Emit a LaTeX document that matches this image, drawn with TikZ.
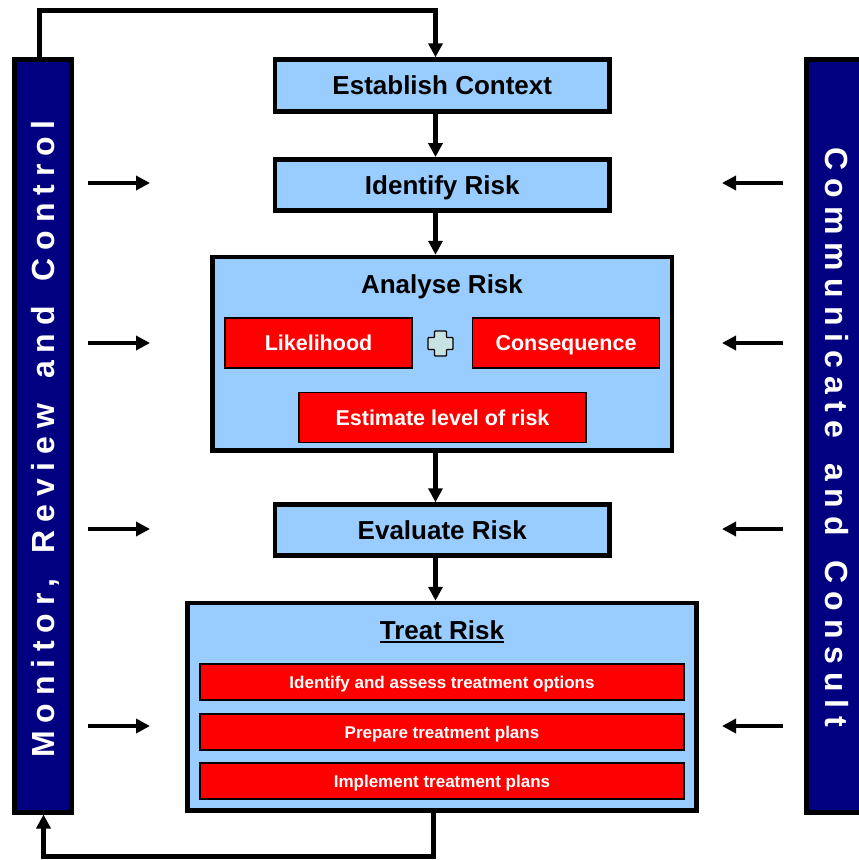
\documentclass[tikz,border=0pt]{standalone}
\usepackage{fontspec}
\setmainfont{Liberation Sans}
\usepackage{xcolor}
\usetikzlibrary{arrows.meta,positioning}
\definecolor{boxblue}{HTML}{99CCFF}
\definecolor{barnavy}{HTML}{000080}
\definecolor{plusgrey}{HTML}{C6E2E2}

\begin{document}
\begin{tikzpicture}[x=1pt,y=-1pt,
    stage/.style={draw,line width=4.5pt,fill=boxblue,inner sep=0pt,
      text height=18.6pt,text depth=0pt,font=\fontsize{26}{30}\selectfont\bfseries},
    group/.style={draw,line width=4.5pt,fill=boxblue,inner sep=0pt},
    title/.style={inner sep=0pt,text height=18.6pt,text depth=0pt,
      font=\fontsize{26}{30}\selectfont\bfseries},
    task/.style={draw,line width=1.2pt,fill=red,text=white,inner sep=0pt,
      text height=15.4pt,text depth=0pt,font=\fontsize{21.5}{26}\selectfont\bfseries},
    subtask/.style={draw,line width=1.2pt,fill=red,text=white,inner sep=0pt,
      minimum width=484pt,minimum height=36pt,
      text height=12.2pt,text depth=0pt,font=\fontsize{17}{20}\selectfont\bfseries},
    bar/.style={draw,line width=5pt,fill=barnavy,inner sep=0pt},
    barlabel/.style={text=white,inner sep=0pt,text height=23pt,text depth=0pt,
      font={\fontsize{32}{36}\selectfont\bfseries\addfontfeature{LetterSpace=24.6}}},
    flow/.style={line width=5pt,-{Triangle[length=14pt,width=14pt]}},
    feed/.style={line width=4pt,-{Triangle[length=14pt,width=14pt]}}]
    \useasboundingbox (0,0) rectangle (859,860);

    % side bars
    \node[bar,minimum width=57pt,minimum height=752.5pt] (mon) at (43,435.75) {};
    \node[barlabel,rotate=90] (monl) at (43,439)
      {Monitor,\hspace{25pt}Review\hspace{25pt}and\hspace{25pt}Control};
    \node[bar,minimum width=59.5pt,minimum height=752.5pt] (com) at (836.25,435.75) {};
    \node[barlabel,rotate=-90] (coml) at (836.5,437.5)
      {Communicate\hspace{25pt}and\hspace{25pt}Consult};

    % process steps
    \node[stage,minimum width=334.5pt,minimum height=52pt] (est) at (442.25,85.5) {Establish Context};
    \node[stage,minimum width=334.5pt,minimum height=51pt] (idr) at (442.25,184.75) {Identify Risk};

    \node[group,minimum width=459.5pt,minimum height=193.5pt] (ana) at (442.25,353.75) {};
    \node[title] (anat) at (442,284) {Analyse Risk};
    \node[task,minimum width=187pt,minimum height=50pt] (lik) at (318.5,343) {Likelihood};
    \node[task,minimum width=187pt,minimum height=50pt] (con) at (566,343) {Consequence};
    \node[task,minimum width=287pt,minimum height=50pt] (lev) at (442.5,417.5) {Estimate level of risk};
    \coordinate (plus) at (440.5,343.5);
    \draw[shift={(plus)},line width=1.2pt,fill=plusgrey,rounded corners=0.8pt]
      (-6,-12.5) -- (6,-12.5) -- (6,-6) -- (12.5,-6) -- (12.5,6) -- (6,6)
      -- (6,12.5) -- (-6,12.5) -- (-6,6) -- (-12.5,6) -- (-12.5,-6) -- (-6,-6) -- cycle;

    \node[stage,minimum width=334.5pt,minimum height=51pt] (evr) at (442.25,530) {Evaluate Risk};

    \node[group,minimum width=509pt,minimum height=207.5pt] (trt) at (442,706.75) {};
    \node[title] (trtt) at (442,630.5) {Treat Risk};
    \draw[line width=1.8pt] ([yshift=-2.5pt]trtt.base west) -- ([yshift=-2.5pt]trtt.base east);
    \node[subtask] (opt) at (442,682) {Identify and assess treatment options};
    \node[subtask] (pln) at (442,732) {Prepare treatment plans};
    \node[subtask] (imp) at (442,781) {Implement treatment plans};

    % connectors
    \coordinate (ax) at (435.5,0);
    \coordinate (bx) at (433,0);
    \coordinate (tl) at (39.5,10.5);
    \coordinate (bl) at (43.5,856);
    \draw[flow] (est.south -| ax) -- (idr.north -| ax);
    \draw[flow] (idr.south -| ax) -- (ana.north -| ax);
    \draw[flow] (ana.south -| ax) -- (evr.north -| ax);
    \draw[flow] (evr.south -| ax) -- (trt.north -| ax);
    \draw[flow] (mon.north -| tl) -- (tl) -| (est.north -| ax);
    \draw[flow] (trt.south -| bx) |- (bl) -- (mon.south -| bl);

    % arrows from the bars
    \foreach \y [count=\i] in {183,343,529,726} {
      \coordinate (la\i) at (88,\y);
      \coordinate (lb\i) at (150,\y);
      \coordinate (ra\i) at (783,\y);
      \coordinate (rb\i) at (722,\y);
      \draw[feed] (la\i) -- (lb\i);
      \draw[feed] (ra\i) -- (rb\i);
    }
\end{tikzpicture}
\end{document}
